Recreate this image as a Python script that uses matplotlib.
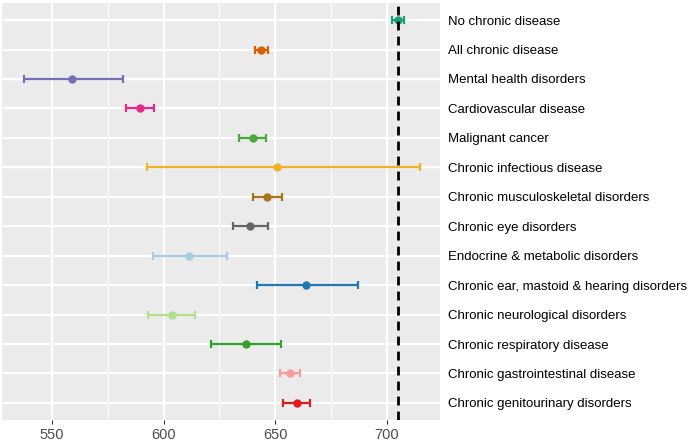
import matplotlib
matplotlib.use("Agg")
import matplotlib.pyplot as plt
from matplotlib.ticker import MultipleLocator

categories = [
    "No chronic disease",
    "All chronic disease",
    "Mental health disorders",
    "Cardiovascular disease",
    "Malignant cancer",
    "Chronic infectious disease",
    "Chronic musculoskeletal disorders",
    "Chronic eye disorders",
    "Endocrine & metabolic disorders",
    "Chronic ear, mastoid & hearing disorders",
    "Chronic neurological disorders",
    "Chronic respiratory disease",
    "Chronic gastrointestinal disease",
    "Chronic genitourinary disorders",
]
estimate = [705.2, 643.6, 558.9, 589.3, 639.9, 650.9, 646.3, 638.8, 611.6, 664.1, 603.6, 637.0, 656.5, 659.8]
lower = [702.4, 640.9, 537.2, 583.2, 633.8, 592.5, 640.1, 631.1, 595.1, 642.1, 593.0, 621.4, 652.1, 653.7]
upper = [707.9, 646.9, 581.8, 595.7, 646.1, 714.9, 652.9, 646.7, 628.3, 687.0, 614.3, 652.8, 661.2, 665.7]
colors = ["#1B9E77", "#D95F02", "#7570B3", "#E7298A", "#4CA83E", "#EFB325", "#A6761D",
          "#666666", "#A6CEE3", "#1F78B4", "#B2DF8A", "#33A02C", "#FB9A99", "#E31A1C"]
reference_value = 705.2
x_ticks = [550, 600, 650, 700]

fig = plt.figure(figsize=(6.9, 4.41), dpi=100)
ax = fig.add_axes([2/690, 1 - 420/441, 438/690, 417/441])
ax.set_facecolor("#EBEBEB")
for s in ax.spines.values():
    s.set_visible(False)

n = len(categories)
ypos = list(range(n))
for i in range(n):
    ax.errorbar(estimate[i], ypos[i],
                xerr=[[estimate[i] - lower[i]], [upper[i] - estimate[i]]],
                fmt="o", color=colors[i], ecolor=colors[i], elinewidth=1.6,
                capsize=2.6, capthick=1.6, markersize=5.0, zorder=3)

ax.axvline(reference_value, color="black", linestyle=(0, (3.2, 2.2)), linewidth=2.0, zorder=4)

ax.set_xlim(527.5, 724.0)
ax.set_ylim(n - 0.5 + 0.08, -0.5 - 0.08)
ax.set_xticks(x_ticks)
ax.xaxis.set_minor_locator(MultipleLocator(25))
ax.set_yticks(ypos)
ax.set_yticklabels(categories)
ax.yaxis.tick_right()
ax.tick_params(axis="y", length=0, pad=6, labelsize=9.5, labelcolor="black")
ax.tick_params(axis="x", which="major", length=3, color="#333333", labelsize=10.5, labelcolor="#4D4D4D", pad=3)
ax.tick_params(axis="x", which="minor", length=0)
for lab in ax.get_yticklabels():
    lab.set_fontfamily("Liberation Sans")
for lab in ax.get_xticklabels():
    lab.set_fontfamily("Liberation Sans")

ax.grid(True, which="major", axis="both", color="white", linewidth=1.6, zorder=0)
ax.grid(True, which="minor", axis="x", color="white", linewidth=0.7, zorder=0)
ax.set_axisbelow(True)

fig.savefig("out.png", dpi=100, facecolor="white")
